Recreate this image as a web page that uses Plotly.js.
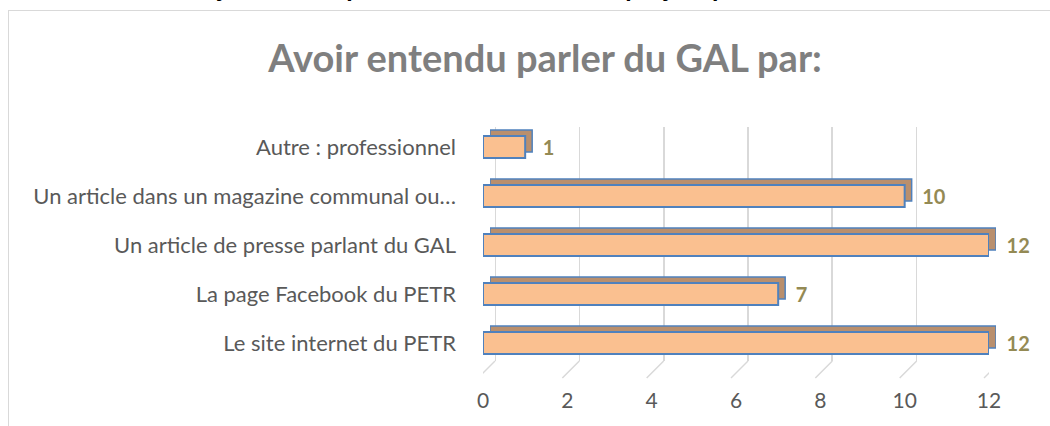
<!DOCTYPE html>
<html><head><meta charset="utf-8">
<script src="https://cdn.plot.ly/plotly-3.0.1.min.js"></script>
<style>
html,body{margin:0;padding:0;background:#fff;overflow:hidden}
#frame{position:absolute;left:8px;top:10px;width:1100px;height:500px;border-left:1.5px solid #D9D9D9;border-top:1.5px solid #D9D9D9}
#chart{position:absolute;left:0;top:0;width:1050px;height:426px}
</style></head><body>
<div id="frame"></div>
<div id="chart"></div>
<script>
// ---- data ----
const categories = ["Le site internet du PETR", "La page Facebook du PETR", "Un article de presse parlant du GAL", "Un article dans un magazine communal ou…", "Autre : professionnel"];
const values = [12, 7, 12, 10, 1];
const tickValues = [0, 2, 4, 6, 8, 10, 12];
const tickLabels = ["0", "2", "4", "6", "8", "10", "12"];
const chartTitle = "Avoir entendu parler du GAL par:";
const pageHeading = "Avez-vous déjà entendu parler du GAL ou de ses projets par";

// ---- layout helpers (pixel -> paper) ----
const W = 1050, H = 426;
const fx = p => p / W;
const fy = p => 1 - p / H;
const FONT = "Lato, 'Open Sans', sans-serif";

const frontL = 483, frontR = 989, frontT = 122.5, frontB = 367.5;
const backDX = 7, backDY = -6;
const gridDX = 12, gridT = 127, gridB = 361, floorB = 378;

const traces = [
  { // helper for back-wall grid subplot
    type: 'bar', x: [], y: [], xaxis: 'x', yaxis: 'y', showlegend: false, hoverinfo: 'skip'
  },
  { // depth faces
    type: 'bar', orientation: 'h', x: values, y: categories, xaxis: 'x2', yaxis: 'y2',
    marker: { color: '#B98F6D', line: { color: '#4F81BD', width: 1.5 } },
    showlegend: false, hoverinfo: 'skip'
  },
  { // front faces
    type: 'bar', orientation: 'h', x: values, y: categories, xaxis: 'x3', yaxis: 'y3',
    marker: { color: '#FAC090', line: { color: '#4F81BD', width: 2 } },
    texttemplate: '\u00a0\u00a0\u00a0%{x}', textposition: 'outside', cliponaxis: false,
    constraintext: 'none',
    textfont: { family: FONT, size: 20, color: '#948A54', weight: 'bold' },
    showlegend: false, hoverinfo: 'skip'
  }
];

const catAxis = {
  type: 'category', categoryorder: 'array', categoryarray: categories,
  range: [-0.5, categories.length - 0.5], showgrid: false, zeroline: false
};

const shapes = tickValues.map(v => ({
  type: 'line', xref: 'x3', xsizemode: 'pixel', xanchor: v, x0: -5, x1: gridDX,
  yref: 'paper', y0: fy(floorB), y1: fy(gridB),
  line: { color: '#D9D9D9', width: 1.5 }, layer: 'below'
}));

const layout = {
  width: W, height: H,
  margin: { l: 0, r: 0, t: 0, b: 0, pad: 0 },
  paper_bgcolor: 'rgba(0,0,0,0)', plot_bgcolor: 'rgba(0,0,0,0)',
  font: { family: FONT, color: '#595959' },
  bargap: 0.55,
  title: {
    text: chartTitle, x: fx(545), xanchor: 'center', y: fy(59), yanchor: 'middle',
    font: { family: FONT, size: 38, color: '#7F7F7F', weight: 'bold' }
  },
  xaxis: {
    domain: [fx(frontL + gridDX), fx(frontR + gridDX)], range: [-0.01, 12.01], anchor: 'y',
    tickvals: tickValues, showticklabels: false, showgrid: true, gridcolor: '#D9D9D9', gridwidth: 1.5,
    zeroline: true, zerolinecolor: '#D9D9D9', zerolinewidth: 1.5, showline: false, ticks: ''
  },
  yaxis: { domain: [fy(gridB), fy(gridT)], range: [0, 1], anchor: 'x', visible: false },
  xaxis2: {
    domain: [fx(frontL + backDX), fx(frontR + backDX)], range: [0, 12], anchor: 'y2', visible: false
  },
  yaxis2: Object.assign({}, catAxis, { domain: [fy(frontB + backDY), fy(frontT + backDY)], anchor: 'x2', visible: false }),
  xaxis3: {
    domain: [fx(frontL), fx(frontR)], range: [0, 12], anchor: 'y3',
    tickvals: tickValues, ticktext: tickLabels, showgrid: false, zeroline: false, showline: false,
    ticks: '', ticklabelstandoff: 18, tickfont: { family: FONT, size: 21, color: '#595959' }
  },
  yaxis3: Object.assign({}, catAxis, {
    domain: [fy(frontB), fy(frontT)], anchor: 'x3', showline: false, ticks: '',
    ticklabelstandoff: 26, tickfont: { family: FONT, size: 22, color: '#595959' }
  }),
  shapes: shapes,
  annotations: [{
    text: pageHeading, xref: 'paper', yref: 'paper', x: fx(60), xanchor: 'left',
    y: fy(-13), yanchor: 'middle', showarrow: false,
    font: { family: FONT, size: 26, color: '#000000', weight: 'bold' }
  }]
};

Plotly.newPlot('chart', traces, layout, { staticPlot: true, displayModeBar: false });
</script>
</body></html>
